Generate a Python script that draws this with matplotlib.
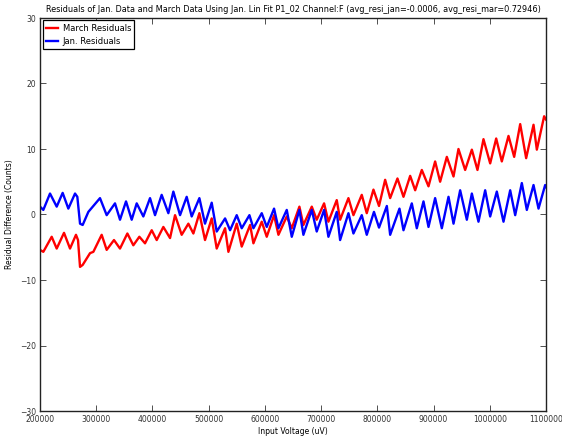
import numpy as np
import matplotlib
matplotlib.use('Agg')
import matplotlib.pyplot as plt

# Residuals (x in uV, y in counts), peak / trough vertices
mar_x = [200000, 205900, 220800, 229700, 242700, 253400, 264000, 267600, 271200, 275900,
         289000, 294900, 309700, 318600, 331600, 342300, 355400, 366000, 376700, 386800,
         398700, 407600, 419400, 431300, 440200, 452000, 463900, 472800, 483500, 493500,
         505400, 514300, 529200, 535100, 549900, 558800, 573700, 579600, 594400, 603300,
         616300, 624100, 638900, 647800, 661400, 668500, 683400, 692200, 705300, 713000,
         727800, 733800, 748600, 757500, 772300, 781200, 793100, 803000, 813900, 822800,
         835800, 846500, 858400, 867300, 879100, 891000, 902800, 911700, 923600, 935500,
         944300, 956200, 968100, 978100, 988800, 1000700, 1011400, 1021400, 1033300, 1043400,
         1054100, 1064700, 1077800, 1083700, 1096700, 1100000]
mar_y = [-5.4, -5.7, -3.4, -5.2, -2.8, -5.2, -3.1, -3.9, -8.0, -7.7,
         -5.9, -5.7, -3.1, -5.4, -3.9, -5.2, -2.9, -4.7, -3.4, -4.4,
         -2.4, -3.9, -1.9, -3.6, -0.1, -3.1, -1.4, -2.9, 0.2, -3.9,
         -0.6, -5.2, -2.1, -5.7, -1.4, -4.9, -1.6, -4.4, -1.1, -3.4,
         -0.1, -3.1, -0.3, -2.1, 1.2, -1.6, 1.2, -0.8, 1.7, -1.1,
         2.2, -0.8, 2.5, -0.1, 3.0, 0.2, 3.8, 1.3, 5.3, 2.5,
         5.5, 2.7, 5.9, 3.7, 6.8, 4.3, 8.1, 5.0, 8.8, 5.8,
         10.0, 6.8, 9.9, 6.8, 11.5, 7.8, 11.6, 8.1, 12.0, 8.8,
         13.8, 8.6, 13.7, 9.9, 15.0, 14.5]

jan_x = [200000, 205900, 217800, 229700, 240300, 250400, 262300, 266400, 271200, 275900,
         286000, 306700, 318600, 333400, 342300, 353000, 363100, 372000, 383800, 395700,
         404600, 416400, 428300, 437200, 449100, 460900, 469800, 483500, 493500, 505400,
         514300, 529200, 538100, 549900, 558800, 572500, 579600, 594400, 603300, 616300,
         624100, 638900, 647800, 661400, 668500, 683400, 692200, 705300, 713000, 727800,
         733800, 748600, 757500, 772300, 781200, 794000, 803000, 816900, 822800, 839400,
         846500, 861300, 870200, 882100, 891000, 902800, 914700, 926600, 935500, 947300,
         959200, 968100, 979900, 991800, 1000700, 1012500, 1024400, 1036300, 1045200, 1057000,
         1065900, 1077800, 1086700, 1098500, 1100000]
jan_y = [1.2, 0.7, 3.2, 1.2, 3.3, 0.9, 3.2, 2.7, -1.4, -1.6,
         0.4, 2.5, -0.1, 1.7, -0.8, 2.0, -0.8, 1.7, -0.3, 2.5,
         -0.1, 3.0, 0.2, 3.5, -0.1, 2.7, -0.3, 2.5, -1.4, 1.8,
         -2.6, -0.6, -2.4, -0.1, -2.1, -0.1, -2.1, 0.2, -1.9, 0.9,
         -2.1, 0.7, -3.4, 0.7, -3.1, 0.7, -2.6, 0.7, -3.4, 0.4,
         -3.9, 0.2, -2.9, -0.1, -3.1, 0.4, -2.0, 1.3, -3.1, 0.9,
         -2.4, 1.7, -2.1, 2.0, -1.9, 2.5, -2.1, 2.7, -1.4, 3.7,
         -0.8, 3.2, -1.1, 3.7, -0.3, 3.5, -1.1, 3.7, -0.1, 4.8,
         0.7, 4.5, 0.9, 4.5, 4.2]

title = ('Residuals of Jan. Data and March Data Using Jan. Lin Fit P1_02 Channel:F '
         '(avg_resi_jan=-0.0006, avg_resi_mar=0.72946)')

fig = plt.figure(figsize=(5.62, 4.36), dpi=100)
ax = fig.add_axes([40 / 562, 25 / 436, 506 / 562, 393 / 436])

ax.plot(mar_x, mar_y, color='r', lw=1.7, label='March Residuals')
ax.plot(jan_x, jan_y, color='b', lw=1.7, label='Jan. Residuals')

ax.set_xlim(200000, 1100000)
ax.set_ylim(-30, 30)
ax.set_xticks(np.arange(200000, 1100001, 100000))
ax.set_yticks(np.arange(-30, 31, 10))
ax.ticklabel_format(style='plain', useOffset=False)
ax.tick_params(direction='in', top=True, right=True, length=4, width=0.6,
               labelsize=5.5, colors='#333333', labelcolor='#333333', pad=3)
for s in ax.spines.values():
    s.set_linewidth(1.0)
    s.set_color('#222222')

ax.set_title(title, fontsize=5.9, pad=4)
ax.set_xlabel('Input Voltage (uV)', fontsize=5.5, labelpad=2)
ax.set_ylabel('Residual Difference (Counts)', fontsize=5.5, labelpad=4)

leg = ax.legend(loc='upper left', fontsize=6, fancybox=False, handlelength=1.4,
                borderaxespad=0.3, framealpha=1, handletextpad=0.6)
leg.get_frame().set_edgecolor('black')
leg.get_frame().set_linewidth(0.9)

fig.savefig('out.png', dpi=100, facecolor='white')
